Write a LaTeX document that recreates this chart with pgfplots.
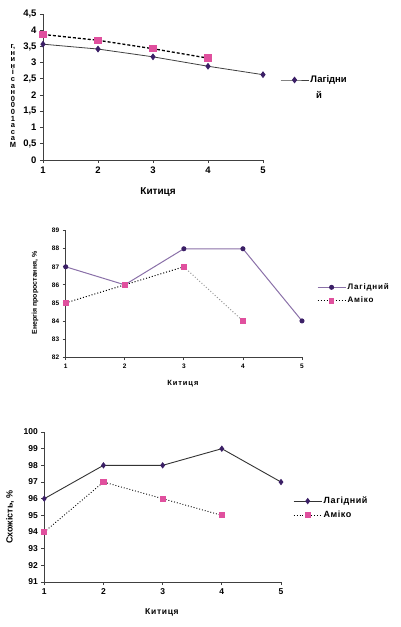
\documentclass[border=0pt]{standalone}
\usepackage{fontspec}
\setmainfont{Liberation Sans}
\usepackage{pgfplots}
\pgfplotsset{compat=1.18}
\definecolor{lagm}{HTML}{3B1F66}
\definecolor{amm}{HTML}{E0509E}
\definecolor{lag2}{HTML}{8A70A8}
\begin{document}
\begin{tikzpicture}
\path[use as bounding box] (0,0) rectangle (400pt,-627pt);
\pgfplotsset{
 base/.style={scale only axis, axis x line=bottom, axis y line=left,
   axis line style={-,black!75,line width=0.8pt}, xmin=1, xmax=5, xtick={1,2,3,4,5},
   tick align=outside, major tick length=3pt, tick style={black!75,line width=0.8pt},
   clip=false, /pgf/number format/assume math mode=true, anchor=south west,
   legend style={draw=none, fill=none, inner sep=0pt, row sep=3pt, nodes={inner sep=1.5pt}},
   legend cell align=left,
   legend image code/.code={\draw[mark repeat=2,mark phase=2] plot coordinates {(0pt,0pt)(14pt,0pt)(28pt,0pt)};}},
}
% ---------- Chart 1 ----------
\begin{axis}[base, at={(43pt,-160pt)}, width=220pt, height=146pt,
  ymin=0, ymax=4.5, ytick={0,0.5,1,1.5,2,2.5,3,3.5,4,4.5},
  yticklabels={0,{0,5},1,{1,5},2,{2,5},3,{3,5},4,{4,5}},
  ticklabel style={font=\bfseries\fontsize{9.5}{10}\selectfont},
  xlabel={Китиця}, xlabel style={at={(axis description cs:0.523,-0.219)}, anchor=center, font=\bfseries\fontsize{10}{11}\selectfont},
  legend style={at={(axis description cs:1.077,0.548)}, anchor=west, font=\bfseries\fontsize{9.5}{10}\selectfont}]
\addplot[color=black!75, line width=0.8pt, mark=diamond*, mark size=2.8pt, mark options={solid, fill=lagm, draw=lagm}]
  coordinates {(1,3.57)(2,3.42)(3,3.18)(4,2.89)(5,2.63)};
\addlegendentry{Лагідни}
\addplot[forget plot, color=black, line width=1.3pt, densely dashed, mark=square*, mark size=3pt, mark options={solid, fill=amm, draw=amm}]
  coordinates {(1,3.87)(2,3.69)(3,3.43)(4,3.14)};
\end{axis}
\node[anchor=base west, font=\bfseries\fontsize{9.5}{10}\selectfont, inner sep=0pt] at (316pt,-98pt) {й};
\node[align=center, font=\bfseries\fontsize{7.5}{6.6}\selectfont, inner sep=0pt] at (13pt,-96pt)
  {г,\\н\\и\\н\\і\\с\\а\\н\\0\\0\\0\\1\\а\\с\\а\\М};
% ---------- Chart 2 ----------
\begin{axis}[base, at={(65.7pt,-357pt)}, width=236.3pt, height=126.3pt,
  ymin=82, ymax=89, ytick={82,83,84,85,86,87,88,89},
  ticklabel style={font=\bfseries\fontsize{6.5}{7}\selectfont},
  xlabel={Китиця}, xlabel style={at={(axis description cs:0.496,-0.214)}, anchor=center, font=\bfseries\fontsize{7.5}{8}\selectfont\addfontfeature{LetterSpace=12}},
  ylabel={Енергія проростання, \%}, ylabel style={at={(axis description cs:-0.13,0.507)}, anchor=center, font=\bfseries\fontsize{7}{8}\selectfont},
  legend style={at={(axis description cs:1.063,0.499)}, anchor=west, font=\bfseries\fontsize{8}{9}\selectfont\addfontfeature{LetterSpace=10}}]
\addplot[color=lag2, line width=1pt, mark=*, mark size=2pt, mark options={solid, fill=lagm, draw=lagm}]
  coordinates {(1,87)(2,86)(3,88)(4,88)(5,84)};
\addlegendentry{Лагідний}
\addplot[color=black, line width=1pt, dotted, mark=square*, mark size=2.3pt, mark options={solid, fill=amm, draw=amm}]
  coordinates {(1,85)(2,86)(3,87)};
\addlegendentry{Аміко}
\addplot[forget plot, color=black!40, line width=1pt, dotted, mark=square*, mark size=2.3pt, mark options={solid, fill=amm, draw=amm}]
  coordinates {(3,87)(4,84)};
\end{axis}
% ---------- Chart 3 ----------
\begin{axis}[base, at={(44.3pt,-582pt)}, width=236.7pt, height=150pt,
  ymin=91, ymax=100, ytick={91,92,93,94,95,96,97,98,99,100},
  ticklabel style={font=\bfseries\fontsize{8.5}{9}\selectfont},
  xlabel={Китиця}, xlabel style={at={(axis description cs:0.497,-0.2)}, anchor=center, font=\bfseries\fontsize{8.5}{9}\selectfont\addfontfeature{LetterSpace=8}},
  ylabel={Схожість, \%}, ylabel style={at={(axis description cs:-0.145,0.433)}, anchor=center, font=\bfseries\fontsize{9}{10}\selectfont},
  legend style={at={(axis description cs:1.051,0.493)}, anchor=west, font=\bfseries\fontsize{9}{10}\selectfont\addfontfeature{LetterSpace=6}}]
\addplot[color=black!80, line width=0.9pt, mark=diamond*, mark size=2.5pt, mark options={solid, fill=lagm, draw=lagm}]
  coordinates {(1,96)(2,98)(3,98)(4,99)(5,97)};
\addlegendentry{Лагідний}
\addplot[color=black, line width=0.9pt, dotted, mark=square*, mark size=2.6pt, mark options={solid, fill=amm, draw=amm}]
  coordinates {(1,94)(2,97)(3,96)(4,95)};
\addlegendentry{Аміко}
\end{axis}
\end{tikzpicture}
\end{document}
